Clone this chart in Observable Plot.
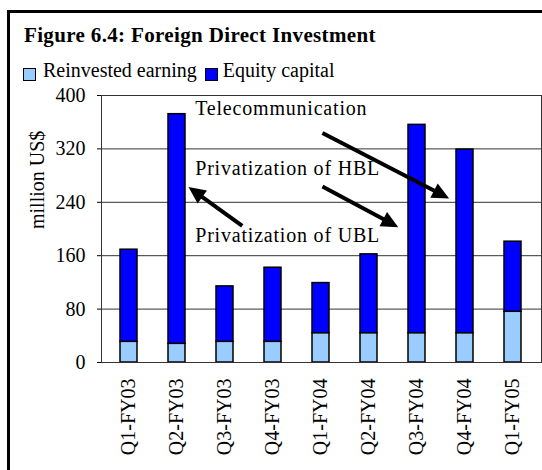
<!DOCTYPE html>
<html>
<head>
<meta charset="utf-8">
<script src="https://cdn.jsdelivr.net/npm/d3@7"></script>
<script src="https://cdn.jsdelivr.net/npm/@observablehq/plot@0.6"></script>
<style>
  html, body { margin: 0; padding: 0; background: white; }
  body { width: 542px; height: 470px; overflow: hidden; position: relative; font-family: "Liberation Serif", "Times New Roman", serif; }
  #border { position: absolute; left: 7px; top: 10px; width: 600px; height: 600px; border: 3px solid black; pointer-events: none; z-index: 3; }
  #title { position: absolute; left: 24px; top: 25px; font-size: 21px; font-weight: bold; line-height: 21px; letter-spacing: 0.35px; white-space: nowrap; }
  #legend { position: absolute; left: 23px; top: 60px; font-size: 20px; line-height: 20px; display: flex; align-items: flex-start; white-space: nowrap; }
  .sw { width: 13px; height: 13px; box-sizing: border-box; border: 1.5px solid black; margin-top: 8px; }
  #chart { position: absolute; left: 0; top: 85px; }
</style>
</head>
<body>
<div id="title">Figure 6.4: Foreign Direct Investment</div>
<div id="legend"></div>
<div id="chart"></div>
<div id="border"></div>
<script>
// ---- data ----
const quarters = ["Q1-FY03","Q2-FY03","Q3-FY03","Q4-FY03","Q1-FY04","Q2-FY04","Q3-FY04","Q4-FY04","Q1-FY05"];
const reinvested = [31, 28, 31, 31, 44, 44, 44, 44, 76];
const equity = [138, 344, 83, 111, 75, 118, 312, 275, 105];
const seriesNames = ["Reinvested earning", "Equity capital"];
const seriesColors = ["#99CCFF", "#0000FF"];
const yTicks = [0, 80, 160, 240, 320, 400];
const yLabel = "million US$";
const annoTexts = ["Telecommunication", "Privatization of HBL", "Privatization of UBL"];
const annoTextQuarter = "Q2-FY03";
const annoTextValues = [370, 280, 180];
// arrows: [quarter, offset in band steps from bar centre, value] for tail and head
const arrowTails = [["Q1-FY04", 0.04, 343], ["Q1-FY04", 0.04, 263], ["Q3-FY03", 0.37, 204]];
const arrowHeads = [["Q4-FY04", -0.32, 245], ["Q3-FY04", -0.38, 202], ["Q2-FY03", 0.25, 262]];

// ---- table ----
const rows = [];
quarters.forEach((q, i) => {
  rows.push({quarter: q, type: seriesNames[0], value: reinvested[i]});
  rows.push({quarter: q, type: seriesNames[1], value: equity[i]});
});

// legend
const legend = document.getElementById("legend");
seriesNames.forEach((name, i) => {
  const sw = document.createElement("div");
  sw.className = "sw";
  sw.style.background = seriesColors[i];
  sw.style.marginRight = i === 0 ? "7px" : "5px";
  const t = document.createElement("span");
  t.textContent = name;
  t.style.marginRight = "8px";
  legend.appendChild(sw);
  legend.appendChild(t);
});

function annotations(index, scales) {
  const x = scales.x, y = scales.y;
  const bw = x.bandwidth ? x.bandwidth() : 0;
  const step = x.step ? x.step() : bw;
  const px = (q, off) => x(q) + bw / 2 + off * step;
  const g = d3.create("svg:g");
  annoTexts.forEach((t, i) => {
    g.append("text")
      .attr("x", px(annoTextQuarter, 0.39))
      .attr("y", y(annoTextValues[i]))
      .attr("font-size", 20)
      .attr("letter-spacing", "0.8px")
      .attr("text-anchor", "start")
      .attr("fill", "black")
      .text(t);
  });
  arrowTails.forEach((tail, i) => {
    const head = arrowHeads[i];
    const x1 = px(tail[0], tail[1]), y1 = y(tail[2]);
    const x2 = px(head[0], head[1]), y2 = y(head[2]);
    const dx = x2 - x1, dy = y2 - y1, len = Math.hypot(dx, dy);
    const ux = dx / len, uy = dy / len;
    const hl = 17, hw = 8;
    const bx = x2 - ux * hl, by = y2 - uy * hl;
    g.append("line")
      .attr("x1", x1).attr("y1", y1)
      .attr("x2", bx + ux * 2).attr("y2", by + uy * 2)
      .attr("stroke", "black").attr("stroke-width", 4);
    g.append("path")
      .attr("d", `M${x2},${y2}L${bx - uy * hw},${by + ux * hw}L${bx + uy * hw},${by - ux * hw}Z`)
      .attr("fill", "black");
  });
  return g.node();
}

const chart = Plot.plot({
  width: 542,
  height: 385,
  marginLeft: 101,
  marginRight: 1,
  marginTop: 10,
  marginBottom: 108,
  style: {fontFamily: "Liberation Serif, Times New Roman, serif", fontSize: "20px", background: "transparent", maxWidth: "none", color: "black"},
  x: {domain: quarters, paddingInner: 0.64, paddingOuter: 0.32, label: null},
  y: {domain: [0, 400], label: null},
  color: {domain: seriesNames, range: seriesColors},
  marks: [
    Plot.gridY(yTicks, {stroke: "#333", strokeOpacity: 1}),
    Plot.barY(rows, {x: "quarter", y: "value", fill: "type", stroke: "black", strokeWidth: 1.5}),
    Plot.frame({stroke: "#333"}),
    Plot.axisY({ticks: yTicks, tickSize: 4, tickPadding: 12, label: null, fontSize: 20}),
    Plot.axisX({tickRotate: -90, tickSize: 0, tickPadding: 16, label: null, fontSize: 20}),
    Plot.text([yLabel], {text: d => d, frameAnchor: "left", rotate: -90, dx: -64, fontSize: 20}),
    annotations
  ]
});
document.getElementById("chart").appendChild(chart);
</script>
</body>
</html>
